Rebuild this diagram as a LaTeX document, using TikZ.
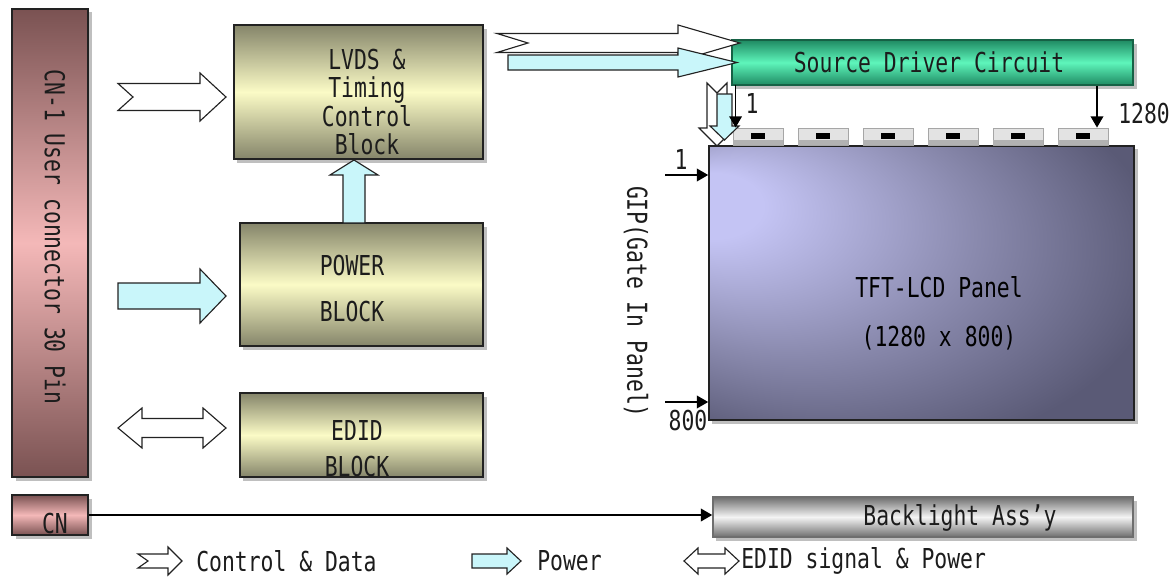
\documentclass[tikz,border=0pt]{standalone}
\usepackage{fontspec}
\usetikzlibrary{arrows.meta,calc,shadows}
\newfontfamily\gulim[FakeStretch=0.78]{DejaVu Sans Mono}
\definecolor{textink}{HTML}{1C1C1C}
\definecolor{boxline}{HTML}{222222}
\definecolor{cndark}{HTML}{7A5252}
\definecolor{cnlight}{HTML}{F4B8B8}
\definecolor{olivedark}{HTML}{85856A}
\definecolor{olivelight}{HTML}{FBFBC6}
\definecolor{srcdark}{HTML}{1F8A62}
\definecolor{srclight}{HTML}{5EF5BB}
\definecolor{bldark}{HTML}{6E6E6E}
\definecolor{bllight}{HTML}{F4F4F4}
\definecolor{panellight}{HTML}{C4C4F4}
\definecolor{panelmid}{HTML}{8A8AAE}
\definecolor{paneldark}{HTML}{5A5A76}
\definecolor{pwrcyan}{HTML}{C9F6FA}
\pgfdeclareradialshading{panelshade}{\pgfpoint{-28bp}{16bp}}{%
  color(0bp)=(panellight); color(6bp)=(panellight);
  color(22bp)=(panelmid); color(36bp)=(paneldark); color(50bp)=(paneldark)}
\tikzset{
  box/.style={draw=boxline,line width=1.1pt,inner sep=0pt,
    drop shadow={shadow xshift=2.5pt,shadow yshift=-2.5pt,fill=black!50,opacity=0.5}},
  cnshade/.style={top color=cndark,bottom color=cndark,middle color=cnlight},
  oliveshade/.style={top color=olivedark,bottom color=olivedark,middle color=olivelight},
  srcshade/.style={top color=srcdark,bottom color=srcdark,middle color=srclight},
  blshade/.style={top color=bldark,bottom color=bldark,middle color=bllight},
  chip/.style={draw=gray!70,fill=gray!22,line width=0.6pt,inner sep=0pt,
    minimum width=1.25cm,minimum height=0.425cm},
  txt/.style={inner sep=0pt,text=textink},
  fatctrl/.style={draw=boxline,fill=white,line width=0.8pt,line join=miter},
  fatpwr/.style={fatctrl,fill=pwrcyan},
  sig/.style={draw=black,line width=1pt,-{Triangle[length=8pt,width=9pt]}}
}
\begin{document}
\begin{tikzpicture}[x=0.025cm,y=-0.025cm,font=\gulim\fontsize{19.5}{20}\selectfont]
\useasboundingbox[fill=white] (0,0) rectangle (1173,580);

% connectors on the left
\node[box,cnshade,minimum width=1.9cm,minimum height=11.7cm] (cn1) at (50,243) {};
\node[box,cnshade,minimum width=1.9cm,minimum height=1cm] (cn) at (50,515) {};
\node[txt,rotate=-90] (cn1text) at (55,237) {CN-1 User connector 30 Pin};
\node[txt] (cntext) at (55,524) {CN};

% blocks
\node[box,oliveshade,minimum width=6.225cm,minimum height=3.35cm] (lvds) at (358.5,92) {};
\node[box,oliveshade,minimum width=6.075cm,minimum height=3.075cm] (power) at (361.5,284.5) {};
\node[box,oliveshade,minimum width=6.075cm,minimum height=2.1cm] (edid) at (361.5,435) {};
\node[txt,align=center] (lvdstext) at (367,102) {LVDS \&\\Timing\\Control\\Block};
\node[txt,align=center] (powertext) at (352,288.5) {POWER\\[13pt]BLOCK};
\node[txt,align=center] (edidtext) at (357,448.5) {EDID\\[6pt]BLOCK};

% source driver, panel, backlight
\node[box,srcshade,draw=srcdark!70!black,
      drop shadow={shadow xshift=2.5pt,shadow yshift=-2.5pt,fill=black!25,opacity=0.6},
      minimum width=10.025cm,minimum height=1.125cm] (source) at (932.5,62.5) {};
\node[txt] (sourcetext) at (929,62) {Source Driver Circuit};
\node[box,shade,shading=panelshade,minimum width=10.625cm,minimum height=6.85cm] (panel) at (921.5,283) {};
\node[txt,align=center,text=black] (paneltext) at (939,313) {TFT-LCD Panel\\[15pt](1280 x 800)};
\node[box,blshade,draw=bldark,minimum width=10.5cm,minimum height=1cm] (backlight) at (923,517) {};
\node[txt] (backlighttext) at (960,518) {Backlight Ass’y};

% tape carrier chips
\foreach \i in {1,...,6} {
  \node[chip] (chip\i) at ({758+65*(\i-1)},136.5) {};
  \fill[gray!60] ($(chip\i.south west)+(0.5,-5)$) rectangle ($(chip\i.south east)+(-0.5,0)$);
  \fill[black] ($(chip\i.center)+(-7,-3.5)$) rectangle ($(chip\i.center)+(7,2.5)$);
}

% block arrows: control & data
\draw[fatctrl] (118,83.5) -- (200,83.5) -- (200,73) -- (226,97) -- (200,121)
  -- (200,110.5) -- (118,110.5) -- (133,97) -- cycle;
\draw[fatctrl] (497,33.5) -- (678,33.5) -- (678,25) -- (740,43) -- (678,61)
  -- (678,52.5) -- (497,52.5) -- (528,43) -- cycle;
\draw[fatctrl] (707,83) -- (717,93) -- (727,83) -- (727,128) -- (735,128)
  -- (717,146) -- (699,128) -- (707,128) -- cycle;
% block arrows: power
\draw[fatpwr] (118,283) -- (200,283) -- (200,269) -- (226,296) -- (200,323)
  -- (200,309) -- (118,309) -- cycle;
\draw[fatpwr] (508,55) -- (678,55) -- (678,48) -- (737,62.5) -- (678,77)
  -- (678,70) -- (508,70) -- cycle;
\draw[fatpwr] (343,223) -- (343,175) -- (330,175) -- (354,160) -- (378,175)
  -- (365,175) -- (365,223) -- cycle;
\draw[fatpwr] (717,94) -- (732,94) -- (732,126) -- (739,126) -- (724.5,140)
  -- (710,126) -- (717,126) -- cycle;
% block arrow: EDID signal & power
\draw[fatctrl] (118,428) -- (142,408) -- (142,418.5) -- (203,418.5) -- (203,408)
  -- (226,428) -- (203,448) -- (203,437.5) -- (142,437.5) -- (142,448) -- cycle;

% source and gate lines
\draw[sig] ($(chip1.north west)+(3,-43)$) -- ($(chip1.north west)+(3,0)$);
\draw[sig] ({$(chip6.north)+(14,0)$} |- source.south) -- ($(chip6.north)+(14,0)$);
\node[txt] (src1) at (752,104) {1};
\node[txt] (src1280) at (1144,114) {1280};
\coordinate (gatefirst) at (665,175);
\coordinate (gatelast) at (665,402);
\draw[sig] (gatefirst) -- (gatefirst -| panel.west);
\draw[sig] (gatelast) -- (gatelast -| panel.west);
\node[txt] (gate1) at (681,160) {1};
\node[txt] (gate800) at (688,421) {800};
\node[txt,rotate=-90] (giptext) at (636,302) {GIP(Gate In Panel)};

% backlight line
\draw[sig] (cn.east) -- (cn.east -| backlight.west);

% legend
\draw[fatctrl] (138,554) -- (168,554) -- (168,547) -- (182,561) -- (168,575)
  -- (168,568) -- (138,568) -- (148,561) -- cycle;
\node[txt,anchor=west] (legctrl) at (196,561) {Control \& Data};
\draw[fatpwr] (472,554) -- (507,554) -- (507,548) -- (521,561) -- (507,574)
  -- (507,568) -- (472,568) -- cycle;
\node[txt,anchor=west] (legpwr) at (537,561) {Power};
\draw[fatctrl] (684,561) -- (698,548) -- (698,554) -- (725,554) -- (725,548)
  -- (739,561) -- (725,574) -- (725,568) -- (698,568) -- (698,574) -- cycle;
\node[txt,anchor=west] (legedid) at (741,561) {EDID signal \& Power};

\end{tikzpicture}
\end{document}
